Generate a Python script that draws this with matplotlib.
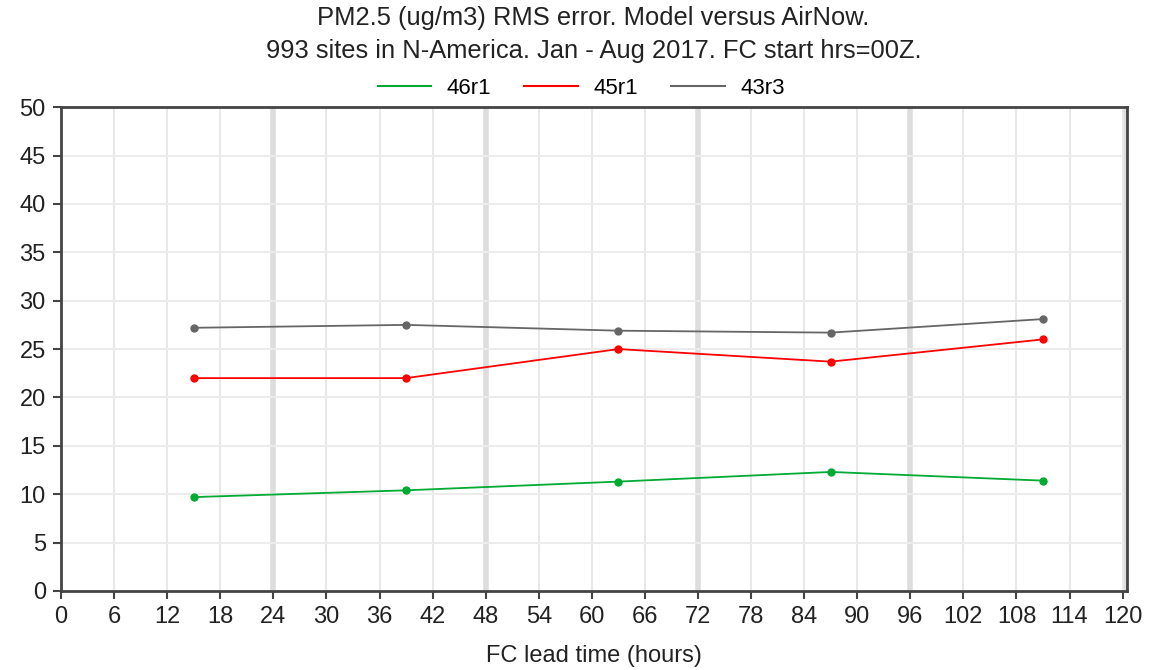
import numpy as np
import matplotlib
matplotlib.use("Agg")
import matplotlib.pyplot as plt
from matplotlib.lines import Line2D

plt.rcParams['font.family'] = ['Liberation Sans', 'DejaVu Sans']

lead_hours = [15, 39, 63, 87, 111]
rms_46r1 = [9.7, 10.4, 11.3, 12.3, 11.4]
rms_45r1 = [22.0, 22.0, 25.0, 23.7, 26.0]
rms_43r3 = [27.2, 27.5, 26.9, 26.7, 28.1]

x_ticks = list(range(0, 121, 6))
y_ticks = list(range(0, 51, 5))

fig = plt.figure(figsize=(11.74, 6.70), dpi=100)
ax = fig.add_axes([0.052, 0.118, 0.908, 0.722])

# grid: light every 6h, heavier every 24h
for x in x_ticks:
    if x % 24 == 0 and x not in (0, 120):
        ax.axvline(x, color='#dddddd', lw=4, zorder=0)
    else:
        ax.axvline(x, color='#e8e8e8', lw=1.5, zorder=0)
for y in y_ticks:
    ax.axhline(y, color='#ececec', lw=1.5, zorder=0)
# light shading along the right edge
ax.axvline(120.5, color='#dddddd', lw=5, zorder=0)

series = [("46r1", rms_46r1, '#00aa33'), ("45r1", rms_45r1, '#ff0000'), ("43r3", rms_43r3, '#666666')]
handles = []
for name, vals, col in series:
    ax.plot(lead_hours, vals, color=col, lw=1.3, marker='o', ms=5, zorder=3)
    handles.append(Line2D([], [], color=col, lw=1.5, label=name))

ax.set_xlim(0, 120.5)
ax.set_ylim(0, 50)
ax.set_xticks(x_ticks)
ax.set_yticks(y_ticks)
ax.tick_params(axis='both', labelsize=17, direction='out', length=6, width=1.5, color='#444444', labelcolor='#222222')
ax.tick_params(axis='y', pad=5)
ax.tick_params(axis='x', pad=5)
for s in ax.spines.values():
    s.set_color('#444444')
    s.set_linewidth(2)
ax.set_xlabel('FC lead time (hours)', fontsize=17, labelpad=12, color='#222222')

fig.text(0.505, 0.973, 'PM2.5 (ug/m3) RMS error. Model versus AirNow.', ha='center', va='center', fontsize=18.4, color='#222222')
fig.text(0.506, 0.924, '993 sites in N-America. Jan - Aug 2017. FC start hrs=00Z.', ha='center', va='center', fontsize=18.4, color='#222222')

fig.legend(handles=handles, loc='center', bbox_to_anchor=(0.495, 0.868), ncol=3, frameon=False,
           fontsize=16, handlelength=2.4, columnspacing=1.5, handletextpad=0.7)

fig.savefig('out.png', dpi=100)
